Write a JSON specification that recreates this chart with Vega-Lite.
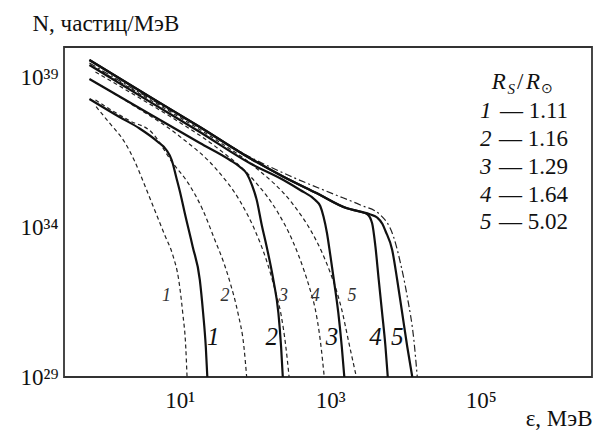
{
  "$schema": "https://vega.github.io/schema/vega-lite/v6.json",
  "width": 528,
  "height": 330,
  "autosize": {"type": "none"},
  "padding": {"left": 64, "top": 47, "right": 13, "bottom": 56},
  "background": "white",
  "config": {
    "view": {"stroke": "#333", "strokeWidth": 1.8},
    "font": "Liberation Serif",
    "text": {"font": "Liberation Serif", "color": "#111"},
    "axis": {"grid": false, "domain": false, "ticks": false, "labelFont": "Liberation Serif", "labelFontSize": 23, "labelColor": "#111", "titleFont": "Liberation Serif", "titleFontSize": 23, "titleFontWeight": "normal", "titleColor": "#111", "labelOverlap": false, "labelFlush": false}
  },
  "datasets": {
    "curves": [
      {"c": "s1", "k": "solid", "E": 0.631, "N": 1.85e38},
      {"c": "s1", "k": "solid", "E": 1.585, "N": 4.64e37},
      {"c": "s1", "k": "solid", "E": 2.93, "N": 1.92e37},
      {"c": "s1", "k": "solid", "E": 5.09, "N": 6.97e36},
      {"c": "s1", "k": "solid", "E": 6.65, "N": 3.69e36},
      {"c": "s1", "k": "solid", "E": 7.82, "N": 1.71e36},
      {"c": "s1", "k": "solid", "E": 9.04, "N": 4.3e35},
      {"c": "s1", "k": "solid", "E": 10.31, "N": 1.17e35},
      {"c": "s1", "k": "solid", "E": 11.66, "N": 2.93e34},
      {"c": "s1", "k": "solid", "E": 14.9, "N": 2.15e33},
      {"c": "s1", "k": "solid", "E": 18.5, "N": 1.71e32},
      {"c": "s1", "k": "solid", "E": 20.45, "N": 1.36e31},
      {"c": "s1", "k": "solid", "E": 22.2, "N": 1e30},
      {"c": "s1", "k": "solid", "E": 23.26, "N": 1e29},
      {"c": "s2", "k": "solid", "E": 0.631, "N": 8.58e38},
      {"c": "s2", "k": "solid", "E": 3.98, "N": 5.85e37},
      {"c": "s2", "k": "solid", "E": 18.5, "N": 6.31e36},
      {"c": "s2", "k": "solid", "E": 46.4, "N": 1.71e36},
      {"c": "s2", "k": "solid", "E": 63.1, "N": 1e36},
      {"c": "s2", "k": "solid", "E": 78.2, "N": 5.85e35},
      {"c": "s2", "k": "solid", "E": 91.2, "N": 2.51e35},
      {"c": "s2", "k": "solid", "E": 105.4, "N": 7.94e34},
      {"c": "s2", "k": "solid", "E": 122.9, "N": 1.17e34},
      {"c": "s2", "k": "solid", "E": 143.2, "N": 2.15e33},
      {"c": "s2", "k": "solid", "E": 175.4, "N": 1.71e32},
      {"c": "s2", "k": "solid", "E": 204.5, "N": 1.36e31},
      {"c": "s2", "k": "solid", "E": 222.2, "N": 1e30},
      {"c": "s2", "k": "solid", "E": 234, "N": 1e29},
      {"c": "s3", "k": "solid", "E": 0.631, "N": 2.51e39},
      {"c": "s3", "k": "solid", "E": 3.98, "N": 1.51e38},
      {"c": "s3", "k": "solid", "E": 18.5, "N": 1.47e37},
      {"c": "s3", "k": "solid", "E": 85.8, "N": 1.33e36},
      {"c": "s3", "k": "solid", "E": 238.5, "N": 3.69e35},
      {"c": "s3", "k": "solid", "E": 398, "N": 1.71e35},
      {"c": "s3", "k": "solid", "E": 631, "N": 7.94e34},
      {"c": "s3", "k": "solid", "E": 735.6, "N": 5.01e34},
      {"c": "s3", "k": "solid", "E": 814, "N": 2.2e34},
      {"c": "s3", "k": "solid", "E": 903.6, "N": 6.31e33},
      {"c": "s3", "k": "solid", "E": 1000, "N": 1.17e33},
      {"c": "s3", "k": "solid", "E": 1131, "N": 1.36e32},
      {"c": "s3", "k": "solid", "E": 1279, "N": 1.36e31},
      {"c": "s3", "k": "solid", "E": 1423, "N": 1e30},
      {"c": "s3", "k": "solid", "E": 1537, "N": 1e29},
      {"c": "s4", "k": "solid", "E": 0.631, "N": 3.69e39},
      {"c": "s4", "k": "solid", "E": 3.98, "N": 2.2e38},
      {"c": "s4", "k": "solid", "E": 18.5, "N": 2.15e37},
      {"c": "s4", "k": "solid", "E": 85.8, "N": 1.95e36},
      {"c": "s4", "k": "solid", "E": 238.5, "N": 4.75e35},
      {"c": "s4", "k": "solid", "E": 665, "N": 1.33e35},
      {"c": "s4", "k": "solid", "E": 1670, "N": 4.2e34},
      {"c": "s4", "k": "solid", "E": 2512, "N": 3.24e34},
      {"c": "s4", "k": "solid", "E": 3085, "N": 2.71e34},
      {"c": "s4", "k": "solid", "E": 3597, "N": 1.33e34},
      {"c": "s4", "k": "solid", "E": 3981, "N": 2.2e33},
      {"c": "s4", "k": "solid", "E": 4406, "N": 1.71e32},
      {"c": "s4", "k": "solid", "E": 4891, "N": 1.33e31},
      {"c": "s4", "k": "solid", "E": 5412, "N": 1.02e30},
      {"c": "s4", "k": "solid", "E": 5808, "N": 1e29},
      {"c": "s5", "k": "solid", "E": 0.631, "N": 3.69e39},
      {"c": "s5", "k": "solid", "E": 3.98, "N": 2.2e38},
      {"c": "s5", "k": "solid", "E": 18.5, "N": 2.15e37},
      {"c": "s5", "k": "solid", "E": 85.8, "N": 1.95e36},
      {"c": "s5", "k": "solid", "E": 238.5, "N": 4.75e35},
      {"c": "s5", "k": "solid", "E": 665, "N": 1.33e35},
      {"c": "s5", "k": "solid", "E": 1670, "N": 4.2e34},
      {"c": "s5", "k": "solid", "E": 2512, "N": 3.24e34},
      {"c": "s5", "k": "solid", "E": 3415, "N": 2.61e34},
      {"c": "s5", "k": "solid", "E": 4195, "N": 2.07e34},
      {"c": "s5", "k": "solid", "E": 4935, "N": 1.26e34},
      {"c": "s5", "k": "solid", "E": 5412, "N": 7.36e33},
      {"c": "s5", "k": "solid", "E": 6648, "N": 1.71e33},
      {"c": "s5", "k": "solid", "E": 7750, "N": 1.71e32},
      {"c": "s5", "k": "solid", "E": 9036, "N": 1.33e31},
      {"c": "s5", "k": "solid", "E": 10540, "N": 1.02e30},
      {"c": "s5", "k": "solid", "E": 12290, "N": 1e29},
      {"c": "dd", "k": "dashdot", "E": 0.631, "N": 2.93e39},
      {"c": "dd", "k": "dashdot", "E": 3.98, "N": 1.92e38},
      {"c": "dd", "k": "dashdot", "E": 18.5, "N": 2.07e37},
      {"c": "dd", "k": "dashdot", "E": 85.8, "N": 2.15e36},
      {"c": "dd", "k": "dashdot", "E": 292.9, "N": 5.01e35},
      {"c": "dd", "k": "dashdot", "E": 1096, "N": 1.26e35},
      {"c": "dd", "k": "dashdot", "E": 2512, "N": 5.41e34},
      {"c": "dd", "k": "dashdot", "E": 4642, "N": 2.51e34},
      {"c": "dd", "k": "dashdot", "E": 6918, "N": 4.75e33},
      {"c": "dd", "k": "dashdot", "E": 8577, "N": 6.17e32},
      {"c": "dd", "k": "dashdot", "E": 10540, "N": 4.75e31},
      {"c": "dd", "k": "dashdot", "E": 12900, "N": 1.71e30},
      {"c": "dd", "k": "dashdot", "E": 14320, "N": 1e29},
      {"c": "d1", "k": "dashed", "E": 0.775, "N": 1.02e38},
      {"c": "d1", "k": "dashed", "E": 1.166, "N": 2.93e37},
      {"c": "d1", "k": "dashed", "E": 1.848, "N": 6.81e36},
      {"c": "d1", "k": "dashed", "E": 2.512, "N": 1.585e36},
      {"c": "d1", "k": "dashed", "E": 3.415, "N": 2.51e35},
      {"c": "d1", "k": "dashed", "E": 4.642, "N": 3.69e34},
      {"c": "d1", "k": "dashed", "E": 6.31, "N": 5.41e33},
      {"c": "d1", "k": "dashed", "E": 8.07, "N": 1.17e33},
      {"c": "d1", "k": "dashed", "E": 9.7, "N": 1.71e32},
      {"c": "d1", "k": "dashed", "E": 10.96, "N": 1.36e31},
      {"c": "d1", "k": "dashed", "E": 12.02, "N": 1e30},
      {"c": "d1", "k": "dashed", "E": 12.51, "N": 1e29},
      {"c": "d2", "k": "dashed", "E": 0.759, "N": 1.71e38},
      {"c": "d2", "k": "dashed", "E": 1.166, "N": 8.58e37},
      {"c": "d2", "k": "dashed", "E": 2.154, "N": 3.49e37},
      {"c": "d2", "k": "dashed", "E": 4.195, "N": 1.47e37},
      {"c": "d2", "k": "dashed", "E": 8.07, "N": 1.36e36},
      {"c": "d2", "k": "dashed", "E": 13.18, "N": 2.71e35},
      {"c": "d2", "k": "dashed", "E": 20.26, "N": 3.69e34},
      {"c": "d2", "k": "dashed", "E": 29.3, "N": 3.69e33},
      {"c": "d2", "k": "dashed", "E": 38.6, "N": 6.31e32},
      {"c": "d2", "k": "dashed", "E": 46.4, "N": 1.47e32},
      {"c": "d2", "k": "dashed", "E": 59.3, "N": 1.36e31},
      {"c": "d2", "k": "dashed", "E": 71.3, "N": 1e30},
      {"c": "d2", "k": "dashed", "E": 77.5, "N": 1e29},
      {"c": "d3", "k": "dashed", "E": 0.759, "N": 6.55e38},
      {"c": "d3", "k": "dashed", "E": 2.512, "N": 1.07e38},
      {"c": "d3", "k": "dashed", "E": 10, "N": 1.045e37},
      {"c": "d3", "k": "dashed", "E": 31.6, "N": 7.74e35},
      {"c": "d3", "k": "dashed", "E": 63.1, "N": 7.33e34},
      {"c": "d3", "k": "dashed", "E": 100, "N": 7.66e33},
      {"c": "d3", "k": "dashed", "E": 141.5, "N": 7.91e32},
      {"c": "d3", "k": "dashed", "E": 184.8, "N": 7.94e31},
      {"c": "d3", "k": "dashed", "E": 222.2, "N": 1.17e31},
      {"c": "d3", "k": "dashed", "E": 255.1, "N": 1.17e30},
      {"c": "d3", "k": "dashed", "E": 284, "N": 1e29},
      {"c": "d4", "k": "dashed", "E": 0.759, "N": 1.47e39},
      {"c": "d4", "k": "dashed", "E": 3.162, "N": 1.78e38},
      {"c": "d4", "k": "dashed", "E": 10, "N": 3.05e37},
      {"c": "d4", "k": "dashed", "E": 31.6, "N": 4.31e36},
      {"c": "d4", "k": "dashed", "E": 100, "N": 3.27e35},
      {"c": "d4", "k": "dashed", "E": 199.5, "N": 3.16e34},
      {"c": "d4", "k": "dashed", "E": 316, "N": 3.45e33},
      {"c": "d4", "k": "dashed", "E": 446.7, "N": 3.63e32},
      {"c": "d4", "k": "dashed", "E": 541, "N": 7.94e31},
      {"c": "d4", "k": "dashed", "E": 631, "N": 1.85e31},
      {"c": "d4", "k": "dashed", "E": 735.6, "N": 1.71e30},
      {"c": "d4", "k": "dashed", "E": 831.8, "N": 1e29},
      {"c": "d5", "k": "dashed", "E": 0.759, "N": 2.0e39},
      {"c": "d5", "k": "dashed", "E": 3.162, "N": 2.48e38},
      {"c": "d5", "k": "dashed", "E": 10, "N": 4.5e37},
      {"c": "d5", "k": "dashed", "E": 31.6, "N": 7.55e36},
      {"c": "d5", "k": "dashed", "E": 100, "N": 9.91e35},
      {"c": "d5", "k": "dashed", "E": 316, "N": 5.94e34},
      {"c": "d5", "k": "dashed", "E": 562, "N": 7.01e33},
      {"c": "d5", "k": "dashed", "E": 794, "N": 1.25e33},
      {"c": "d5", "k": "dashed", "E": 1000, "N": 3.01e32},
      {"c": "d5", "k": "dashed", "E": 1202, "N": 7.94e31},
      {"c": "d5", "k": "dashed", "E": 1402, "N": 2.0e31},
      {"c": "d5", "k": "dashed", "E": 1792, "N": 1.17e30},
      {"c": "d5", "k": "dashed", "E": 2222, "N": 1e29}
    ],
    "xMajorTicks": [
      {"E": 1}, {"E": 10}, {"E": 100}, {"E": 1000}, {"E": 10000}, {"E": 100000}, {"E": 1000000}
    ],
    "xMinorTicks": [
      {"E": 0.4}, {"E": 0.5}, {"E": 0.6}, {"E": 0.7}, {"E": 0.8}, {"E": 0.9},
      {"E": 2}, {"E": 3}, {"E": 4}, {"E": 5}, {"E": 6}, {"E": 7}, {"E": 8}, {"E": 9},
      {"E": 20}, {"E": 30}, {"E": 40}, {"E": 50}, {"E": 60}, {"E": 70}, {"E": 80}, {"E": 90},
      {"E": 200}, {"E": 300}, {"E": 400}, {"E": 500}, {"E": 600}, {"E": 700}, {"E": 800}, {"E": 900},
      {"E": 2000}, {"E": 3000}, {"E": 4000}, {"E": 5000}, {"E": 6000}, {"E": 7000}, {"E": 8000}, {"E": 9000},
      {"E": 20000}, {"E": 30000}, {"E": 40000}, {"E": 50000}, {"E": 60000}, {"E": 70000}, {"E": 80000}, {"E": 90000},
      {"E": 200000}, {"E": 300000}, {"E": 400000}, {"E": 500000}, {"E": 600000}, {"E": 700000}, {"E": 800000}, {"E": 900000},
      {"E": 2000000}
    ],
    "yTicks": [
      {"N": 1e30}, {"N": 1e31}, {"N": 1e32}, {"N": 1e33}, {"N": 1e34}, {"N": 1e35}, {"N": 1e36}, {"N": 1e37}, {"N": 1e38}, {"N": 1e39}
    ],
    "bigLabels": [
      {"E": 27.8, "N": 2.2e30, "t": "1"},
      {"E": 167, "N": 2.2e30, "t": "2"},
      {"E": 1054, "N": 2.2e30, "t": "3"},
      {"E": 3981, "N": 2.2e30, "t": "4"},
      {"E": 7745, "N": 2.2e30, "t": "5"}
    ],
    "smallLabels": [
      {"E": 6.65, "N": 5e31, "t": "1"},
      {"E": 39.8, "N": 5e31, "t": "2"},
      {"E": 238.5, "N": 5e31, "t": "3"},
      {"E": 631, "N": 5e31, "t": "4"},
      {"E": 1945, "N": 5e31, "t": "5"}
    ],
    "legendNum": [
      {"E": 116600, "N": 7.36e37, "t": "1"},
      {"E": 116600, "N": 8.58e36, "t": "2"},
      {"E": 116600, "N": 1e36, "t": "3"},
      {"E": 116600, "N": 1.17e35, "t": "4"},
      {"E": 116600, "N": 1.47e34, "t": "5"}
    ],
    "legendVal": [
      {"E": 1445000, "N": 7.36e37, "t": "— 1.11"},
      {"E": 1445000, "N": 8.58e36, "t": "— 1.16"},
      {"E": 1445000, "N": 1e36, "t": "— 1.29"},
      {"E": 1445000, "N": 1.17e35, "t": "— 1.64"},
      {"E": 1445000, "N": 1.47e34, "t": "— 5.02"}
    ],
    "legendR": [
      {"E": 140200, "N": 6.81e38, "t": "R"},
      {"E": 398000, "N": 6.81e38, "t": "R"}
    ],
    "legendSlash": [
      {"E": 302000, "N": 6.81e38, "t": "/"}
    ],
    "legendSubS": [
      {"E": 226000, "N": 3.98e38, "t": "S"}
    ],
    "legendSubSun": [
      {"E": 631000, "N": 3.98e38, "t": "⊙"}
    ]
  },
  "encoding": {
    "x": {
      "field": "E",
      "type": "quantitative",
      "scale": {"type": "log", "domain": [0.29, 3000000], "nice": false},
      "axis": {
        "orient": "bottom",
        "values": [10, 1000, 100000],
        "labelExpr": "abs(log(datum.value)/LN10 - 1) < 0.01 ? '10¹' : abs(log(datum.value)/LN10 - 3) < 0.01 ? '10³' : abs(log(datum.value)/LN10 - 5) < 0.01 ? '10⁵' : ''",
        "labelPadding": 12,
        "labelBaseline": "top",
        "title": "ε, МэВ",
        "titleX": 528,
        "titleY": 48,
        "titleAlign": "right",
        "titleBaseline": "alphabetic"
      }
    },
    "y": {
      "field": "N",
      "type": "quantitative",
      "scale": {"type": "log", "domain": [1e29, 1e40], "nice": false},
      "axis": {
        "orient": "left",
        "values": [1e29, 1e34, 1e39],
        "labelExpr": "round(log(datum.value)/LN10) == 39 ? '10³⁹' : round(log(datum.value)/LN10) == 34 ? '10³⁴' : round(log(datum.value)/LN10) == 29 ? '10²⁹' : ''",
        "labelPadding": 6,
        "labelBaseline": "middle",
        "title": "N, частиц/МэВ",
        "titleAngle": 0,
        "titleX": -32,
        "titleY": -17,
        "titleAlign": "left",
        "titleBaseline": "alphabetic"
      }
    }
  },
  "layer": [
    {
      "data": {"name": "xMinorTicks"},
      "mark": {"type": "rule", "color": "#222", "strokeWidth": 1.3},
      "encoding": {"y": {"datum": 1e29}, "y2": {"datum": 1.36e29}}
    },
    {
      "data": {"name": "xMajorTicks"},
      "mark": {"type": "rule", "color": "#222", "strokeWidth": 1.3},
      "encoding": {"y": {"datum": 1e29}, "y2": {"datum": 1.71e29}}
    },
    {
      "data": {"name": "yTicks"},
      "mark": {"type": "rule", "color": "#222", "strokeWidth": 1.3},
      "encoding": {"x": {"datum": 0.29}, "x2": {"datum": 0.374}}
    },
    {
      "data": {"name": "curves"},
      "transform": [{"filter": "datum.k == 'dashed'"}],
      "mark": {"type": "line", "interpolate": "monotone", "color": "#222", "strokeWidth": 1.2, "strokeDash": [4, 3], "clip": true},
      "encoding": {"detail": {"field": "c"}}
    },
    {
      "data": {"name": "curves"},
      "transform": [{"filter": "datum.k == 'dashdot'"}],
      "mark": {"type": "line", "interpolate": "monotone", "color": "#222", "strokeWidth": 1.2, "strokeDash": [7, 3, 2, 3], "clip": true},
      "encoding": {"detail": {"field": "c"}}
    },
    {
      "data": {"name": "curves"},
      "transform": [{"filter": "datum.k == 'solid'"}],
      "mark": {"type": "line", "interpolate": "monotone", "color": "#111", "strokeWidth": 2.2, "clip": true},
      "encoding": {"detail": {"field": "c"}}
    },
    {
      "data": {"name": "bigLabels"},
      "mark": {"type": "text", "fontSize": 25, "fontStyle": "italic", "align": "center", "baseline": "middle"},
      "encoding": {"text": {"field": "t"}}
    },
    {
      "data": {"name": "smallLabels"},
      "mark": {"type": "text", "fontSize": 18, "fontStyle": "italic", "align": "center", "baseline": "middle", "color": "#333"},
      "encoding": {"text": {"field": "t"}}
    },
    {
      "data": {"name": "legendNum"},
      "mark": {"type": "text", "fontSize": 23, "fontStyle": "italic", "align": "center", "baseline": "middle"},
      "encoding": {"text": {"field": "t"}}
    },
    {
      "data": {"name": "legendVal"},
      "mark": {"type": "text", "fontSize": 23, "align": "right", "baseline": "middle"},
      "encoding": {"text": {"field": "t"}}
    },
    {
      "data": {"name": "legendR"},
      "mark": {"type": "text", "fontSize": 23, "fontStyle": "italic", "align": "left", "baseline": "middle"},
      "encoding": {"text": {"field": "t"}}
    },
    {
      "data": {"name": "legendSlash"},
      "mark": {"type": "text", "fontSize": 23, "align": "left", "baseline": "middle"},
      "encoding": {"text": {"field": "t"}}
    },
    {
      "data": {"name": "legendSubS"},
      "mark": {"type": "text", "fontSize": 15, "fontStyle": "italic", "align": "left", "baseline": "middle"},
      "encoding": {"text": {"field": "t"}}
    },
    {
      "data": {"name": "legendSubSun"},
      "mark": {"type": "text", "fontSize": 14, "align": "left", "baseline": "middle"},
      "encoding": {"text": {"field": "t"}}
    }
  ]
}
